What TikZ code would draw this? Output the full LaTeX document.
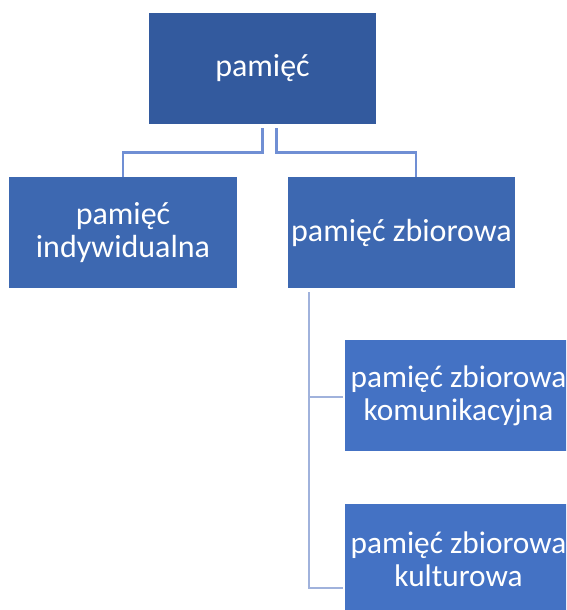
\documentclass[tikz,border=0pt]{standalone}
\usepackage{fontspec}
\setmainfont{Carlito}
\usetikzlibrary{calc}
\definecolor{lvlone}{RGB}{51,90,158}
\definecolor{lvltwo}{RGB}{61,104,177}
\definecolor{lvlthree}{RGB}{68,114,196}
\definecolor{lineone}{RGB}{112,143,212}
\definecolor{linetwo}{RGB}{160,178,220}
\tikzset{
  boxnode/.style={rectangle, minimum width=227pt, minimum height=111pt, inner sep=0pt,
    text=white, align=center, font=\fontsize{32}{33}\selectfont},
  subbox/.style={boxnode, fill=lvlthree, font=\fontsize{31.3}{33}\selectfont},
  connone/.style={draw=lineone, line width=2.6pt},
  conntwo/.style={draw=linetwo, line width=2.6pt},
}
\begin{document}
\begin{tikzpicture}[x=1pt,y=-1pt]
\useasboundingbox (0,0) rectangle (566,610);
\clip (0,0) rectangle (566,610);
\fill[white] (0,0) rectangle (566,610);
\node[boxnode, fill=lvlone] (top) at (262.5,68.5) {pamięć};
\node[boxnode, fill=lvltwo, minimum width=228pt] (ind) at (123,232.5) {pamięć\\indywidualna};
\node[boxnode, fill=lvltwo] (zb) at (401.5,232.5) {pamięć zbiorowa};
\node[subbox] (kom) at (458.5,395.5) {pamięć zbiorowa\\komunikacyjna};
\node[subbox] (kul) at (458.5,559.5) {pamięć zbiorowa\\kulturowa};
% first level connectors
\coordinate (ta) at ($(top.south)+(0.2,4)$);
\coordinate (tb) at ($(top.south)+(14.2,4)$);
\draw[connone] (ta) |- ($(ind.north)+(0,-24.3)$) -- (ind.north);
\draw[connone] (tb) |- ($(zb.north)+(14.5,-24.3)$) -- ($(zb.north)+(14.5,0)$);
% second level connectors
\coordinate (za) at ($(zb.south west)+(21,4)$);
\draw[conntwo] (za) |- ($(kom.west)+(-2,1.5)$);
\draw[conntwo] (za) |- ($(kul.west)+(-2,28.5)$);
\end{tikzpicture}
\end{document}
